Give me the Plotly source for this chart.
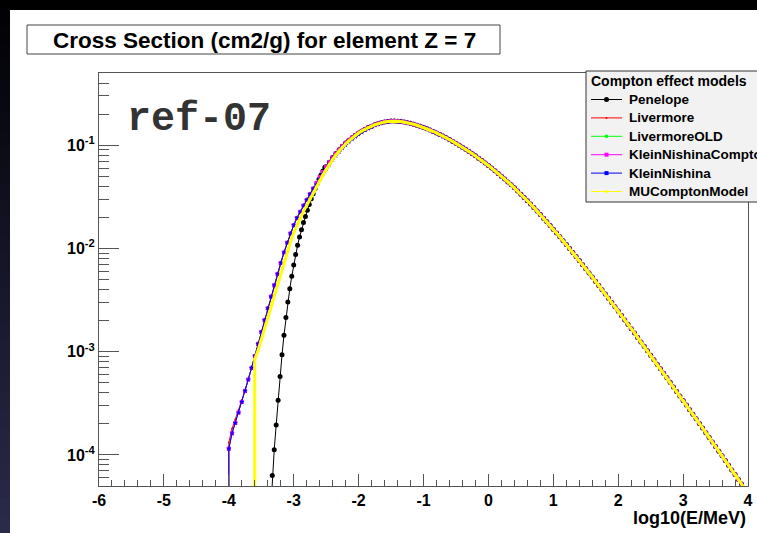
import plotly.graph_objects as go

# ---------------- data ----------------
HEAD_X = [-4.00, -3.95, -3.90, -3.85, -3.80, -3.75, -3.70, -3.65, -3.60, -3.55,
          -3.50, -3.45, -3.40, -3.35, -3.30, -3.25, -3.20, -3.15, -3.10, -3.05,
          -3.00, -2.95, -2.90, -2.85, -2.80, -2.75, -2.70, -2.65, -2.60, -2.55,
          -2.50, -2.45, -2.40, -2.35, -2.30, -2.25, -2.20, -2.15, -2.10, -2.05,
          -2.00, -1.95, -1.90, -1.85, -1.80, -1.75, -1.70, -1.65, -1.60, -1.55]

# low-energy part shared by Livermore / LivermoreOLD / KleinNishinaCompton / KleinNishina
MAIN_HEAD = [1.15e-4, 1.62e-4, 2.04e-4, 2.57e-4, 3.26e-4, 4.17e-4, 5.37e-4, 6.97e-4, 9.08e-4, 1.19e-3,
             1.55e-3, 2.02e-3, 2.63e-3, 3.41e-3, 4.40e-3, 5.66e-3, 7.22e-3, 9.14e-3, 0.01135, 0.01396,
             0.01679, 0.01972, 0.02265, 0.0260, 0.0295, 0.0335, 0.0380, 0.0432, 0.0490, 0.0550,
             0.0617, 0.0684, 0.0759, 0.0832, 0.0902, 0.0977, 0.1047, 0.1117, 0.1183, 0.1247,
             0.1312, 0.1371, 0.1426, 0.1479, 0.1528, 0.1574, 0.1614, 0.1652, 0.1679, 0.1698]

TAIL_X = [-1.50, -1.45, -1.40, -1.35, -1.30, -1.25, -1.20, -1.15, -1.10, -1.05,
          -1.00, -0.95, -0.90, -0.85, -0.80, -0.75, -0.70, -0.65, -0.60, -0.55,
          -0.50, -0.45, -0.40, -0.35, -0.30, -0.25, -0.20, -0.15, -0.10, -0.05,
          0.00, 0.05, 0.10, 0.15, 0.20, 0.25, 0.30, 0.35, 0.40, 0.45,
          0.50, 0.55, 0.60, 0.65, 0.70, 0.75, 0.80, 0.85, 0.90, 0.95,
          1.00, 1.05, 1.10, 1.15, 1.20, 1.25, 1.30, 1.35, 1.40, 1.45,
          1.50, 1.55, 1.60, 1.65, 1.70, 1.75, 1.80, 1.85, 1.90, 1.95,
          2.00, 2.05, 2.10, 2.15, 2.20, 2.25, 2.30, 2.35, 2.40, 2.45,
          2.50, 2.55, 2.60, 2.65, 2.70, 2.75, 2.80, 2.85, 2.90, 2.95,
          3.00, 3.05, 3.10, 3.15, 3.20, 3.25, 3.30, 3.35, 3.40, 3.45,
          3.50, 3.55, 3.60, 3.65, 3.70, 3.75, 3.80, 3.85, 3.90, 3.95,
          4.00]

# high-energy part, common to all six models
TAIL = [0.1710, 0.1714, 0.1706, 0.1692, 0.1673, 0.1652, 0.1626, 0.1592, 0.1560, 0.1521,
        0.1483, 0.1443, 0.1400, 0.1357, 0.1314, 0.1270, 0.1224, 0.1178, 0.1132, 0.1088,
        0.1043, 0.0999, 0.0955, 0.0912, 0.0870, 0.0828, 0.0788, 0.0748, 0.0709, 0.0672,
        0.0636, 0.0600, 0.0566, 0.0533, 0.0501, 0.0471, 0.0441, 0.0413, 0.0386, 0.0360,
        0.0335, 0.0312, 0.0290, 0.0269, 0.0249, 0.0230, 0.0213, 0.01965, 0.01811, 0.01668,
        0.01535, 0.01411, 0.01295, 0.01188, 0.01089, 0.00997, 0.00913, 0.00834, 0.00762, 0.00696,
        0.00635, 0.00579, 0.00528, 0.00481, 0.00438, 0.00398, 0.00362, 0.00329, 0.00299, 0.00272,
        0.00247, 0.00224, 0.00203, 0.00184, 0.00167, 0.00152, 0.00137, 0.00124, 0.00113, 0.00102,
        9.23e-4, 8.35e-4, 7.55e-4, 6.83e-4, 6.18e-4, 5.59e-4, 5.05e-4, 4.56e-4, 4.12e-4, 3.72e-4,
        3.36e-4, 3.04e-4, 2.74e-4, 2.48e-4, 2.24e-4, 2.02e-4, 1.82e-4, 1.64e-4, 1.48e-4, 1.335e-4,
        1.204e-4, 1.085e-4, 9.79e-5, 8.82e-5, 7.95e-5, 7.16e-5, 6.45e-5, 5.81e-5, 5.24e-5, 4.72e-5,
        4.25e-5]

# series-specific low-energy values
LIVERMORE_START = [1.32e-4, 1.80e-4, 2.20e-4, 2.72e-4, 3.38e-4]          # x = -4.00 .. -3.80
KN_SHOULDER = [0.0415, 0.0468, 0.0525, 0.0588, 0.0651, 0.0722, 0.0792, 0.0860, 0.0933, 0.1002,
               0.1072, 0.1140, 0.1206, 0.1273, 0.1336, 0.1395, 0.1452, 0.1506, 0.1557, 0.1601,
               0.1643, 0.1674, 0.1697]                                      # x = -2.65 .. -1.55
MU_HEAD = [8.5e-4, 1.02e-3, 1.30e-3, 1.67e-3, 2.15e-3, 2.76e-3, 3.55e-3, 4.55e-3, 5.85e-3, 7.45e-3,
           9.35e-3, 0.0116, 0.0141, 0.0168, 0.0196, 0.0227, 0.0261, 0.0300, 0.0345, 0.0396,
           0.0453, 0.0514, 0.0581, 0.0652, 0.0727, 0.0803, 0.0877, 0.0955, 0.1027, 0.1100,
           0.1168]                                                          # x = -3.60 .. -2.10
PEN_X = [-3.36, -3.33, -3.30, -3.27, -3.24, -3.21, -3.18, -3.15, -3.12, -3.09,
         -3.06, -3.03, -3.00, -2.97, -2.94, -2.91, -2.88, -2.85, -2.82, -2.79,
         -2.76, -2.73, -2.70, -2.67, -2.64, -2.61, -2.58, -2.55, -2.52]
PEN_HEAD = [2.5e-5, 6.31e-5, 1.12e-4, 1.95e-4, 3.39e-4, 5.75e-4, 9.33e-4, 1.445e-3, 2.14e-3, 3.02e-3,
            4.07e-3, 5.37e-3, 6.92e-3, 8.71e-3, 0.01072, 0.01288, 0.01514, 0.01778, 0.02042, 0.02344,
            0.02661, 0.0302, 0.0339, 0.0380, 0.0422, 0.0468, 0.0513, 0.0562, 0.0610]
BELOW_RANGE = 1e-6   # value under the threshold (drawn off the bottom of the frame)

MODELS = ["Penelope", "Livermore", "LivermoreOLD", "KleinNishinaCompton", "KleinNishina", "MUComptonModel"]
LEGEND_TITLE = "Compton effect models"

series = {
    "Penelope": (PEN_X + HEAD_X[30:] + TAIL_X, PEN_HEAD + MAIN_HEAD[30:] + TAIL),
    "Livermore": ([HEAD_X[0]] + HEAD_X + TAIL_X,
                  [BELOW_RANGE] + LIVERMORE_START + MAIN_HEAD[5:] + TAIL),
    "LivermoreOLD": ([HEAD_X[0]] + HEAD_X + TAIL_X, [BELOW_RANGE] + MAIN_HEAD + TAIL),
    "KleinNishinaCompton": ([HEAD_X[0]] + HEAD_X + TAIL_X, [BELOW_RANGE] + MAIN_HEAD + TAIL),
    "KleinNishina": ([HEAD_X[0]] + HEAD_X + TAIL_X,
                     [BELOW_RANGE] + MAIN_HEAD[:27] + KN_SHOULDER + TAIL),
    "MUComptonModel": ([HEAD_X[8]] + HEAD_X[8:] + TAIL_X,
                       [BELOW_RANGE] + MU_HEAD + MAIN_HEAD[39:] + TAIL),
}

styles = {
    "Penelope": dict(color="#000000", lw=1.0, sym="circle", ms=5),
    "Livermore": dict(color="#ff0000", lw=1.0, sym="circle", ms=2),
    "LivermoreOLD": dict(color="#00ff00", lw=1.0, sym="square", ms=3),
    "KleinNishinaCompton": dict(color="#ff00ff", lw=1.0, sym="square", ms=4),
    "KleinNishina": dict(color="#0000ff", lw=1.0, sym="star", ms=4),
    "MUComptonModel": dict(color="#ffff00", lw=3.0, sym="circle", ms=3),
}

X_TICKS = [-6, -5, -4, -3, -2, -1, 0, 1, 2, 3, 4]
X_TICKTEXT = ["-6", "-5", "-4", "-3", "-2", "-1", "0", "1", "2", "3", "4"]
Y_TICKS = [1e-4, 1e-3, 1e-2, 1e-1]
Y_TICKTEXT = ["10<sup>-4</sup>", "10<sup>-3</sup>", "10<sup>-2</sup>", "10<sup>-1</sup>"]
Y_MINOR = [m * d for d in [1e-5, 1e-4, 1e-3, 1e-2, 1e-1] for m in range(2, 10)]

# ---------------- layout geometry (pixels) ----------------
W, H = 757, 533
L, R, T, B = 99, 748, 73, 486


def px(x):
    return (x - L) / (R - L)


def py(y):
    return (B - y) / (B - T)


FONT = "Liberation Sans"
AXC = "#555555"

fig = go.Figure()
for name in MODELS:
    xs, ys = series[name]
    st = styles[name]
    fig.add_trace(go.Scatter(
        x=xs, y=ys, name=name, mode="lines+markers",
        line=dict(color=st["color"], width=st["lw"]),
        marker=dict(symbol=st["sym"], size=st["ms"], color=st["color"], line=dict(width=0)),
        showlegend=False,
    ))

shapes = []
# dark window background: top strip and left gradient strip
shapes.append(dict(type="rect", xref="paper", yref="paper", x0=px(-5), x1=px(W + 5), y0=py(10), y1=py(-5),
                   fillcolor="#000000", line=dict(width=0), layer="below"))
n = 30
for i in range(n):
    t = i / (n - 1)
    r = int(2 + 40 * t)
    g = int(2 + 40 * t)
    b = int(6 + 68 * t)
    y0 = 8 + (H - 8) * i / n
    y1 = 8 + (H - 8) * (i + 1) / n + 3
    shapes.append(dict(type="rect", xref="paper", yref="paper", x0=px(-5), x1=px(10),
                       y0=py(y1), y1=py(y0), fillcolor=f"rgb({r},{g},{b})",
                       line=dict(width=0), layer="below"))
# title box
shapes.append(dict(type="rect", xref="paper", yref="paper", x0=px(27), x1=px(500), y0=py(54), y1=py(25),
                   fillcolor="white", line=dict(color="#444444", width=1)))

annotations = [
    dict(text="Cross Section (cm2/g) for element Z = 7", xref="paper", yref="paper",
         x=px(264), y=py(40), xanchor="center", yanchor="middle", showarrow=False,
         font=dict(family=FONT, size=22.5, color="black", weight="bold")),
    dict(text="ref-07", xref="paper", yref="paper", x=px(125), y=py(119),
         xanchor="left", yanchor="middle", showarrow=False,
         font=dict(family="Liberation Mono", size=40, color="#333333", weight="bold")),
    dict(text="log10(E/MeV)", xref="paper", yref="paper", x=1.0, y=py(518),
         xanchor="right", yanchor="middle", showarrow=False,
         font=dict(family=FONT, size=18, color="black", weight="bold")),
]

# ---------------- legend box (ROOT TLegend style, running past the right edge) ----------------
LEG_L, LEG_T, LEG_B = 586, 71, 202
ROW0, ROWH = 99.5, 18.4
shapes.append(dict(type="rect", xref="paper", yref="paper", x0=px(LEG_L), x1=px(W + 40),
                   y0=py(LEG_B), y1=py(LEG_T), fillcolor="#f2f2f2",
                   line=dict(color="#333333", width=1), layer="above"))
annotations.append(dict(text=LEGEND_TITLE, xref="paper", yref="paper", x=px(589), y=py(81),
                        xanchor="left", yanchor="middle", showarrow=False,
                        font=dict(family=FONT, size=14, color="black", weight="bold")))
for i, name in enumerate(MODELS):
    st = styles[name]
    yc = ROW0 + i * ROWH
    shapes.append(dict(type="line", xref="paper", yref="paper", x0=px(591), x1=px(622),
                       y0=py(yc), y1=py(yc), line=dict(color=st["color"], width=1), layer="above"))
    half = max(st["ms"], 2) / 2
    kind = "circle" if st["sym"] == "circle" else "rect"
    shapes.append(dict(type=kind, xref="paper", yref="paper", x0=px(606.5 - half), x1=px(606.5 + half),
                       y0=py(yc + half), y1=py(yc - half), fillcolor=st["color"],
                       line=dict(width=0), layer="above"))
    annotations.append(dict(text=name, xref="paper", yref="paper", x=px(627), y=py(yc),
                            xanchor="left", yanchor="middle", showarrow=False,
                            font=dict(family=FONT, size=13.5, color="black", weight="bold")))

fig.update_layout(
    width=W, height=H,
    margin=dict(l=L, r=W - R, t=T, b=H - B, autoexpand=False),
    paper_bgcolor="white", plot_bgcolor="white",
    shapes=shapes, annotations=annotations,
    showlegend=False,
    xaxis=dict(range=[-6, 4], tickmode="array", tickvals=X_TICKS, ticktext=X_TICKTEXT,
               ticks="inside", ticklen=12, tickwidth=1, tickcolor=AXC,
               showline=True, linecolor=AXC, linewidth=1, mirror=True,
               showgrid=False, zeroline=False,
               tickfont=dict(family=FONT, size=16, color="black", weight="bold"),
               minor=dict(tickmode="linear", tick0=0, dtick=0.2, ticks="inside", ticklen=6,
                          tickcolor=AXC, showgrid=False)),
    yaxis=dict(type="log", range=[-4.30103, -0.30103],
               tickmode="array", tickvals=Y_TICKS, ticktext=Y_TICKTEXT,
               ticks="inside", ticklen=20, tickwidth=1, tickcolor=AXC,
               showline=True, linecolor=AXC, linewidth=1, mirror=True,
               showgrid=False, zeroline=False,
               tickfont=dict(family=FONT, size=16, color="black", weight="bold"),
               minor=dict(tickmode="array", tickvals=Y_MINOR, ticks="inside", ticklen=10,
                          tickcolor=AXC, showgrid=False)),
)

fig.write_html("out.html")
